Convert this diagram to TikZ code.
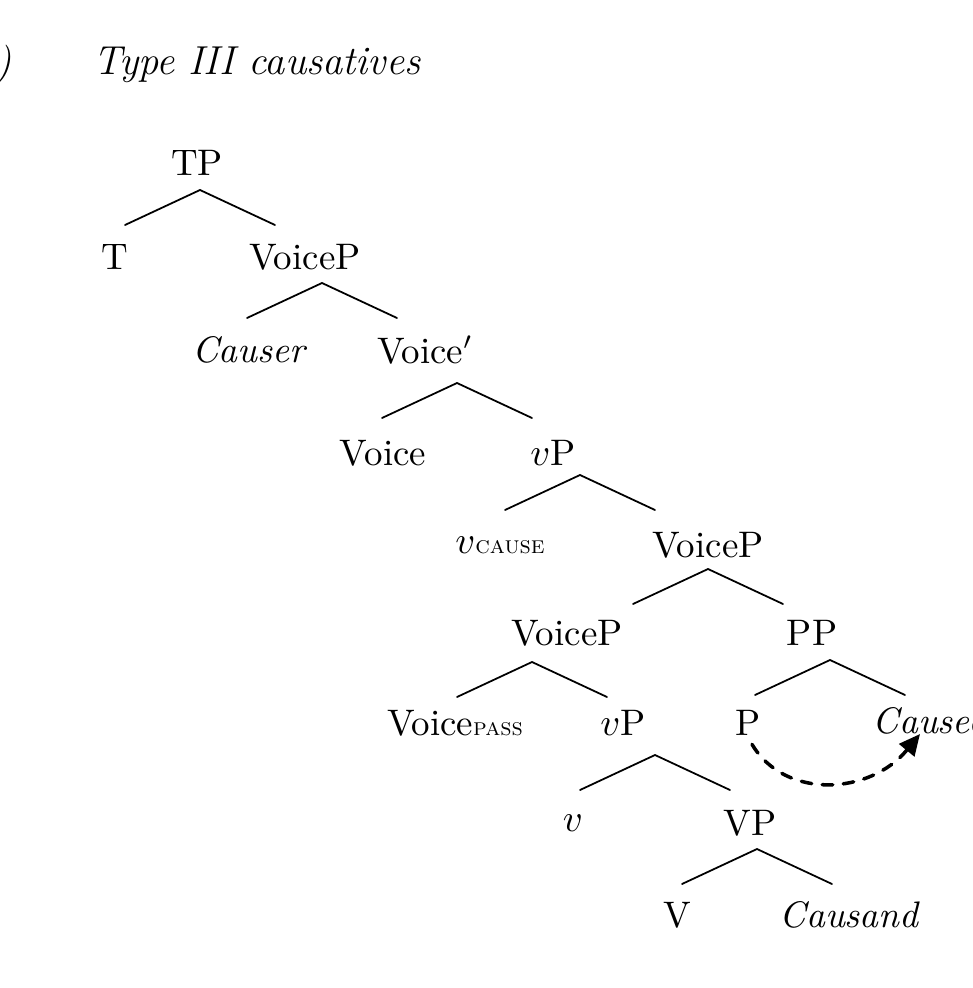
\documentclass[tikz,border=0pt]{standalone}
\usepackage{tikz}
\usetikzlibrary{arrows.meta}
\tikzset{
	lbl/.style={inner sep=0pt, font=\fontsize{10.5}{12}\selectfont},
	br/.style={line width=0.5pt},
}
\newcommand{\sccap}[1]{\textsc{\scriptsize #1}}
\begin{document}
\begin{tikzpicture}[x=0.01cm, y=-0.01cm, line cap=round, line join=round]
	\clip (0,0) rectangle (972,988);
	\useasboundingbox (0,0) rectangle (972,988);
	% Title
	\node[lbl, anchor=east, font=\fontsize{11.5}{13}\selectfont] (num) at (12,65) {\textit{(1)}};
	\node[lbl, anchor=west, font=\fontsize{11.5}{13}\selectfont] (title) at (93,65) {\textit{Type III causatives}};
	
	% Nodes
	\node[lbl] (tp) at (197,163) {TP};
	\node[lbl] (t) at (115,257) {T};
	\node[lbl] (voicep1) at (305,257) {VoiceP};
	\node[lbl] (causer) at (250,350) {\textit{Causer}};
	\node[lbl] (voicebar) at (425,350) {Voice$'$};
	\node[lbl] (voice) at (383,453) {Voice};
	\node[lbl] (vp1) at (553,453) {$v$P};
	\node[lbl] (vcause) at (500,545) {$v$\sccap{cause}};
	\node[lbl] (voicep2) at (708,545) {VoiceP};
	\node[lbl] (voicep3) at (567,633) {VoiceP};
	\node[lbl] (pp) at (812,633) {PP};
	\node[lbl] (voicepass) at (455,723) {Voice\sccap{pass}};
	\node[lbl] (vp2) at (623,723) {$v$P};
	\node[lbl] (p) at (748,723) {P};
	\node[lbl, anchor=west] (causee) at (872,721) {\textit{Causee}};
	\node[lbl] (v) at (573,823) {$v$};
	\node[lbl] (vp3) at (750,823) {VP};
	\node[lbl] (verb) at (677,915) {V};
	\node[lbl] (causand) at (850,915) {\textit{Causand}};
	
	% Branches
	\foreach \n/\x/\y in {tp/200/190, voicep1/322/283, voicebar/457/383,
		vp1/580/475, voicep2/708/569, voicep3/532/662, pp/830/660,
		vp2/655/755, vp3/757/849}
	{
		\draw[br] (\x,\y) -- ++(-75,35);
		\draw[br] (\x,\y) -- ++(75,35);
	}
	
	% Movement arrow
	\draw[dashed, line width=1pt, -{Triangle[length=6pt,width=5.5pt]}]
		(p.south) ++(4,8) .. controls (785,800) and (870,795) .. (920,734);
\end{tikzpicture}
\end{document}
